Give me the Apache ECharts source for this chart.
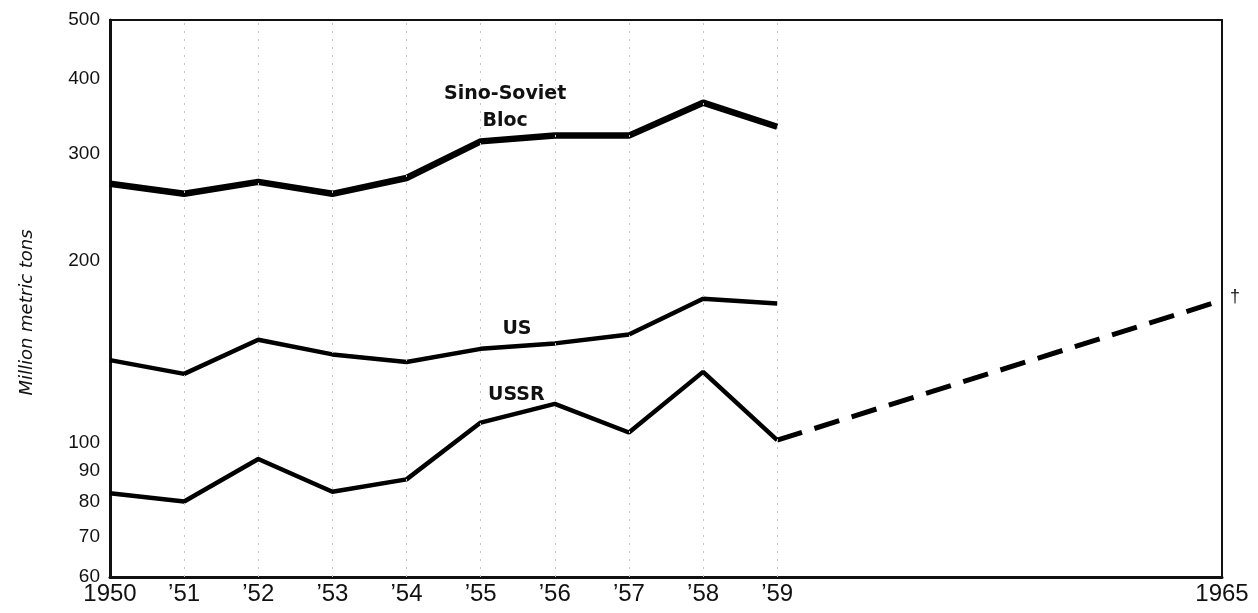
<!DOCTYPE html>
<html>
<head>
<meta charset="utf-8">
<title>Coal production</title>
<script src="https://cdn.jsdelivr.net/npm/echarts@6/dist/echarts.min.js"></script>
<style>
  html, body { margin: 0; padding: 0; background: #fff; }
  #chart { width: 1258px; height: 613px; }
</style>
</head>
<body>
<div id="chart"></div>
<script>
// data (million metric tons, log scale)
const years = [1950, 1951, 1952, 1953, 1954, 1955, 1956, 1957, 1958, 1959]
const blocValues = [268, 258, 270, 258, 274, 315, 322, 322, 365, 333]
const usValues = [137, 130, 148, 140, 136, 143, 146, 151, 173, 170]
const ussrValues = [82.5, 80, 94, 83, 87, 108, 116, 104, 131, 101]
// projection of USSR to 1965
const planYears = [1959, 1965]
const planValues = [101, 172]

// tick labels
const xTickValues = [1950, 1951, 1952, 1953, 1954, 1955, 1956, 1957, 1958, 1959, 1965]
const xTickLabels = ['1950', '\u201951', '\u201952', '\u201953', '\u201954', '\u201955', '\u201956', '\u201957', '\u201958', '\u201959', '1965']
const yTickValues = [60, 70, 80, 90, 100, 200, 300, 400, 500]
// faint vertical guide lines
const gridYears = [1951, 1952, 1953, 1954, 1955, 1956, 1957, 1958, 1959]

const pairs = (xs, ys) => xs.map((x, i) => [x, ys[i]])

const chart = echarts.init(document.getElementById('chart'), null, { renderer: 'canvas' })

// text label on a line, placed in data coordinates
const tag = (text, coord) => ({
  coord: coord,
  symbol: 'circle',
  symbolSize: 1,
  itemStyle: { color: 'rgba(0,0,0,0)' },
  label: {
    show: true,
    formatter: text,
    position: 'inside',
    color: '#111',
    fontFamily: 'DejaVu Sans',
    fontWeight: 'bold',
    fontSize: 19,
    lineHeight: 27,
    align: 'center',
    verticalAlign: 'middle',
  },
})

chart.setOption({
  animation: false,
  backgroundColor: '#fff',
  grid: {
    left: 110,
    right: 36,
    top: 20,
    bottom: 36,
    show: true,
    borderColor: '#111',
    borderWidth: 2,
  },
  xAxis: {
    type: 'value',
    min: 1950,
    max: 1965,
    axisLine: { show: true, onZero: false, lineStyle: { color: '#111', width: 3 } },
    axisTick: { show: false },
    splitLine: { show: false },
    axisLabel: {
      customValues: xTickValues,
      formatter: (v) => xTickLabels[xTickValues.indexOf(v)],
      color: '#111',
      fontFamily: 'Liberation Sans, sans-serif',
      fontSize: 24,
      margin: 5,
    },
  },
  yAxis: {
    type: 'log',
    logBase: 10,
    min: 60,
    max: 500,
    name: 'Million metric tons',
    nameLocation: 'middle',
    nameRotate: 90,
    nameGap: 74,
    nameTextStyle: {
      color: '#111',
      fontFamily: 'DejaVu Sans',
      fontStyle: 'italic',
      fontSize: 18,
      padding: [0, 0, 0, -28],
    },
    axisLine: { show: true, lineStyle: { color: '#111', width: 3 } },
    axisTick: { show: false },
    splitLine: { show: false },
    minorSplitLine: { show: false },
    axisLabel: {
      customValues: yTickValues,
      color: '#111',
      fontFamily: 'Liberation Sans, sans-serif',
      fontSize: 19,
      margin: 10,
    },
  },
  series: [
    {
      name: 'Sino-Soviet Bloc',
      type: 'line',
      data: pairs(years, blocValues),
      showSymbol: false,
      lineStyle: { color: '#000', width: 6.5 },
      markPoint: { data: [tag('Sino-Soviet\nBloc', [1955.33, 358])] },
      // vertical guide lines
      markLine: {
        silent: true,
        symbol: 'none',
        label: { show: false },
        lineStyle: { color: '#c4c4c4', width: 1, type: [2, 6] },
        data: gridYears.map((y) => ({ xAxis: y })),
      },
    },
    {
      name: 'US',
      type: 'line',
      data: pairs(years, usValues),
      showSymbol: false,
      lineStyle: { color: '#000', width: 4.5 },
      markPoint: { data: [tag('US', [1955.49, 154])] },
    },
    {
      name: 'USSR',
      type: 'line',
      data: pairs(years, ussrValues),
      showSymbol: false,
      lineStyle: { color: '#000', width: 4.5 },
      markPoint: { data: [tag('USSR', [1955.48, 120])] },
    },
    {
      name: 'USSR plan',
      type: 'line',
      data: pairs(planYears, planValues),
      showSymbol: false,
      lineStyle: { color: '#000', width: 5, type: [26, 13] },
      endLabel: {
        show: true,
        formatter: '\u2020',
        color: '#111',
        fontSize: 18,
        distance: 8,
        offset: [0, -3],
      },
    },
  ],
})
</script>
</body>
</html>
